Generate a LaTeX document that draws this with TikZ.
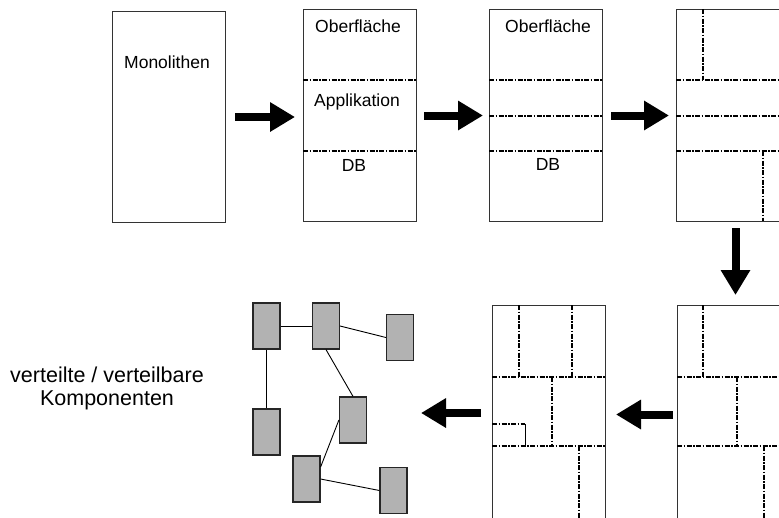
\documentclass[tikz,border=0pt]{standalone}
\usepackage{fontspec}
\setmainfont{Liberation Sans}
\usetikzlibrary{arrows.meta}

\begin{document}
\begin{tikzpicture}[x=1pt,y=-1pt,
        schicht/.style={draw=black!80,line width=1pt,minimum width=113pt,minimum height=212pt,anchor=north west,inner sep=0pt},
        trenn/.style={line width=1.5pt,dash pattern=on 5pt off 1.5pt on 1.5pt off 1.5pt},
        pfeil/.style={line width=8pt,-{Triangle[length=25pt,width=28pt]}},
        komp/.style={draw=black!85,fill=black!30,line width=1.2pt,minimum width=27pt,minimum height=46pt,inner sep=0pt},
        font=\fontsize{17.5}{20}\selectfont]
    \clip (0,0) rectangle (779,517);
    % Schichten oben
    \node[schicht,minimum height=211pt] (mono) at (112,11) {};
    \node[schicht] (dreischicht) at (303,9) {};
    \node[schicht] (vierschicht) at (489,9) {};
    \node[schicht] (zerlegt) at (676,9) {};
    \node (tmono) at (167,62) {Monolithen};
    \node (tober) at (358,26) {Oberfläche};
    \node (tappl) at (357,102) {Applikation};
    \node (tdb) at (354,165) {DB};
    \node (tober2) at (548,26) {Oberfläche};
    \node (tdb2) at (548,164) {DB};
    \foreach \y in {80,151} \draw[trenn] (303,\y) -- ++(113,0);
    \foreach \y in {80,116,151} {
        \draw[trenn] (489,\y) -- ++(113,0);
        \draw[trenn] (676,\y) -- ++(113,0);
    }
    \draw[trenn] (703,9) -- (703,80);
    \draw[trenn] (763,151) -- (763,221);
    % Schichten unten
    \node[schicht,minimum height=230pt] (zerlegtA) at (677,305) {};
    \node[schicht,minimum height=230pt] (zerlegtB) at (492,305) {};
    \foreach \y in {377,446} {
        \draw[trenn] (677,\y) -- ++(113,0);
        \draw[trenn] (492,\y) -- ++(113,0);
    }
    \draw[trenn] (703,305) -- (703,377);
    \draw[trenn] (737,377) -- (737,446);
    \draw[trenn] (764,446) -- (764,535);
    \draw[trenn] (519,305) -- (519,377);
    \draw[trenn] (572,305) -- (572,377);
    \draw[trenn] (552,377) -- (552,446);
    \draw[trenn] (579,446) -- (579,535);
    \draw[trenn] (492,424) -- (525,424);
    \draw[line width=0.8pt] (525,424) -- (525,446);
    % Pfeile
    \draw[pfeil,shorten <=9pt,shorten >=8pt] (mono.east) -- (mono.east -| dreischicht.west);
    \draw[pfeil,shorten <=7pt,shorten >=6pt] (dreischicht.east) -- (vierschicht.west);
    \draw[pfeil,shorten <=8pt,shorten >=7pt] (vierschicht.east) -- (zerlegt.west);
    \draw[pfeil,shorten <=6pt,shorten >=10pt] ([xshift=2.5pt]zerlegt.south) -- ([xshift=2.5pt]zerlegt.south |- zerlegtA.north);
    \draw[pfeil,shorten <=4pt,shorten >=10pt] ([yshift=6pt]zerlegtA.west) -- ([yshift=6pt]zerlegtB.east);
    \coordinate (ziel) at (421,413);
    \draw[pfeil,shorten <=11pt] (zerlegtB.west |- ziel) -- (ziel);
    % Komponenten
    \node[komp] (k1) at (266.5,326) {};
    \node[komp] (k2) at (326,326) {};
    \node[komp] (k3) at (400,337.5) {};
    \node[komp] (k4) at (266.5,432) {};
    \node[komp] (k5) at (353,420) {};
    \node[komp] (k6) at (306.5,479) {};
    \node[komp] (k7) at (393.5,490.5) {};
    \draw[line width=0.9pt] (k1) -- (k2);
    \draw[line width=0.9pt] (k2.east) -- (k3.west);
    \draw[line width=0.9pt] (k1) -- (k4);
    \draw[line width=0.9pt] (k2.south) -- (k5.north);
    \draw[line width=0.9pt] (k5.west) -- ([yshift=12pt]k6.east);
    \draw[line width=0.9pt] (k6.east) -- (k7.west);
    \node[align=center,font=\fontsize{21.5}{23}\selectfont] (beschr) at (107,388) {verteilte / verteilbare\\Komponenten};
\end{tikzpicture}
\end{document}
